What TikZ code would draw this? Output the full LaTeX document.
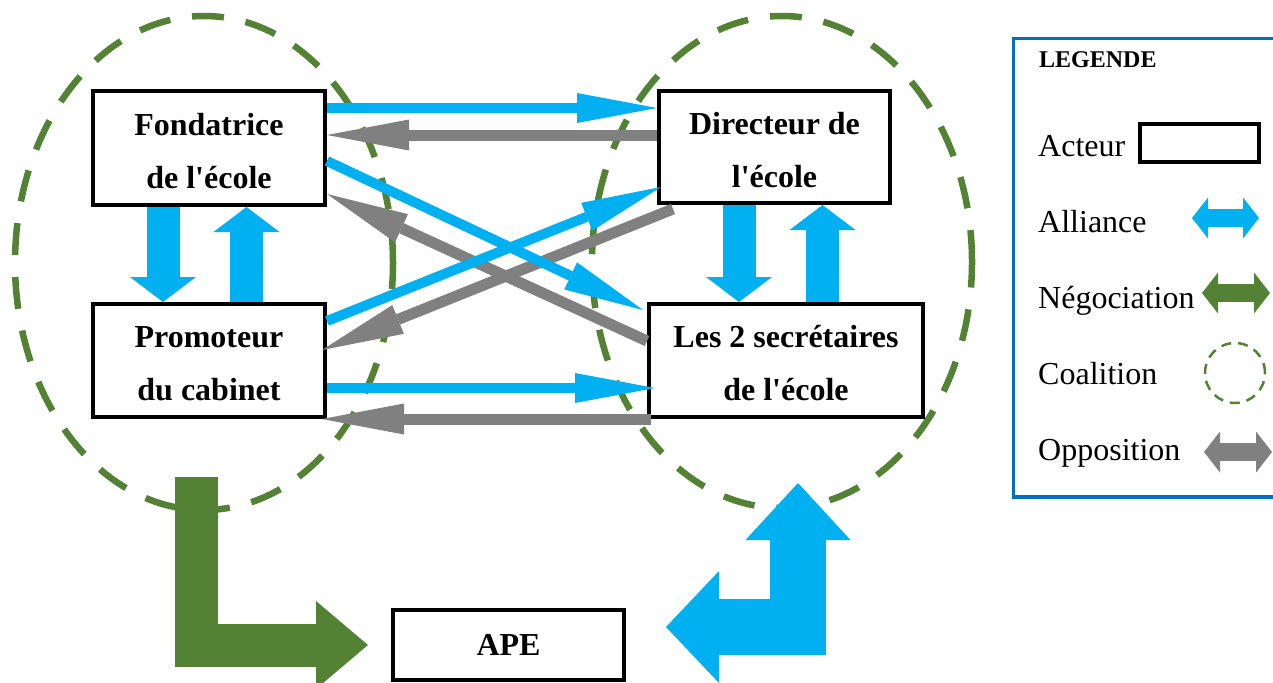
\documentclass[tikz,border=0pt]{standalone}
\usepackage{fontspec}
\setmainfont{Liberation Serif}[Ligatures=TeXOff]
\usetikzlibrary{arrows.meta}
\definecolor{alliancecol}{HTML}{00B0F0}
\definecolor{negocol}{HTML}{548235}
\definecolor{oppocol}{HTML}{808080}
\definecolor{legendcol}{HTML}{0070C0}
\newcommand{\firstline}{\rule{0pt}{28pt}}

\begin{document}
\begin{tikzpicture}[x=1pt,y=-1pt,
    acteur/.style={draw, line width=4pt, fill=white, inner sep=0pt, align=center, font=\fontsize{32}{53}\selectfont\bfseries},
    coalition/.style={draw=negocol, line width=6.5pt, dash pattern=on 32pt off 22pt},
    alliance/.style={draw=alliancecol, line width=10pt, -{Triangle[length=80pt,width=30pt,line width=0pt]}},
    opposition/.style={draw=oppocol, line width=11pt, -{Triangle[length=82pt,width=31pt,line width=0pt]}},
    fatalliance/.style={draw=alliancecol, line width=33pt, -{Triangle[length=25pt,width=66pt,line width=0pt]}},
    legendtext/.style={anchor=base west, inner sep=0pt, font=\fontsize{32}{38}\selectfont},
    legendarrow/.style={line width=18pt, {Triangle[length=16pt,width=41pt,line width=0pt]}-{Triangle[length=16pt,width=41pt,line width=0pt]}}]
        \useasboundingbox (0,0) rectangle (1273,682);

        % Draw the two coalitions
        \draw[coalition] (204,263) ellipse [x radius=189pt, y radius=247pt];
        \draw[coalition] (782,262) ellipse [x radius=190pt, y radius=246pt];

        % Actors
        \node[acteur, minimum width=232pt, minimum height=114pt] (fondatrice) at (209,148) {\firstline Fondatrice\\de l'école};
        \node[acteur, minimum width=232pt, minimum height=113pt] (promoteur) at (209,360.5) {\firstline Promoteur\\du cabinet};
        \node[acteur, minimum width=231pt, minimum height=112pt] (directeur) at (774.5,147) {\firstline Directeur de\\l'école};
        \node[acteur, minimum width=274pt, minimum height=113pt] (secretaires) at (786,360.5) {\firstline Les 2 secrétaires\\de l'école};
        \node[acteur, minimum width=231pt, minimum height=70pt] (ape) at (508.5,645) {APE};

        % Oppositions
        \draw[opposition] ([yshift=-46pt]directeur.north west) -- ([yshift=-46pt]fondatrice.north east);
        \draw[opposition] ([yshift=-39pt]secretaires.north west) -- ([yshift=13pt]fondatrice.south east);
        \draw[opposition] ([shift={(16pt,-4pt)}]directeur.south west) -- ([shift={(-5pt,-48pt)}]promoteur.north east);
        \draw[opposition] ([xshift=4pt]secretaires.south west) -- ([xshift=-5pt]promoteur.south east);

        % Alliances
        \draw[alliance] ([yshift=-19pt]fondatrice.north east) -- ([yshift=-19pt]directeur.north west);
        \draw[alliance] ([yshift=-72pt]fondatrice.north east) -- ([shift={(-4pt,-8pt)}]secretaires.north west);
        \draw[alliance] ([yshift=-19pt]promoteur.north east) -- ([shift={(4pt,18pt)}]directeur.south west);
        \draw[alliance] ([yshift=-86pt]promoteur.north east) -- ([shift={(8pt,-86pt)}]secretaires.north west);
        \draw[fatalliance] ([xshift=-46pt]fondatrice.south) -- ([xshift=-46pt]promoteur.north);
        \draw[fatalliance] ([xshift=37.5pt]promoteur.north) -- ([xshift=37.5pt]fondatrice.south);
        \draw[fatalliance] ([xshift=-35.5pt]directeur.south) -- ([xshift=-47pt]secretaires.north);
        \draw[fatalliance] ([xshift=36.5pt]secretaires.north) -- ([xshift=48pt]directeur.south);

        % Towards the APE
        \coordinate (negostart) at (196.5,477);
        \coordinate (alliancetop) at (798,483);
        \draw[negocol, line width=43pt, -{Triangle[length=52pt,width=88pt,line width=0pt]}] (negostart) |- ([xshift=-23pt]ape.west);
        \draw[alliancecol, line width=56pt, {Triangle[length=53pt,width=112pt,line width=0pt]}-{Triangle[length=57pt,width=105pt,line width=0pt]}] ([shift={(40pt,18pt)}]ape.east) -| (alliancetop);

        % Legend
        \draw[legendcol, line width=3.5pt] (1013.5,38.5) rectangle (1295,497);
        \node[anchor=base west, inner sep=0pt, font=\fontsize{24}{28}\selectfont\bfseries] (legende) at (1039,68) {LEGENDE};
        \node[legendtext] (lacteur) at (1038,156) {Acteur};
        \node[draw, line width=3.5pt, minimum width=119pt, minimum height=38pt, inner sep=0pt] (acteurbox) at (1199.5,143) {};
        \node[legendtext] (lalliance) at (1038,232) {Alliance};
        \draw[alliancecol, legendarrow] (1192,218) -- (1259,218);
        \node[legendtext] (lnegociation) at (1038,308) {Négociation};
        \draw[negocol, legendarrow] (1202,293) -- (1270,293);
        \node[legendtext] (lcoalition) at (1038,384) {Coalition};
        \draw[negocol, line width=2.5pt, dash pattern=on 10pt off 7pt] (1235,373) circle [radius=30pt];
        \node[legendtext] (lopposition) at (1038,460) {Opposition};
        \draw[oppocol, legendarrow] (1204,452) -- (1272,452);
    \end{tikzpicture}
\end{document}
